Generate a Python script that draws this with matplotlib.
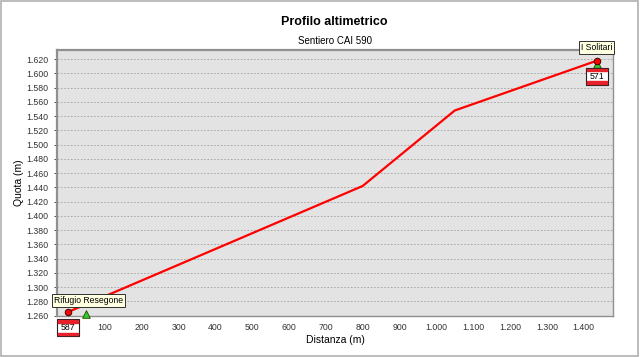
import matplotlib.pyplot as plt
from matplotlib.patches import Rectangle
from matplotlib.ticker import FuncFormatter

plt.rcParams['font.family'] = ['Liberation Sans', 'DejaVu Sans']

# profile points (distance m, elevation m)
dist = [0, 800, 1050, 1436]
quota = [1265, 1442, 1548, 1618]

# waypoints
wp_names = ['Rifugio Resegone', 'I Solitari']
wp_codes = ['587', '571']
wp_dist = [0, 1436]
wp_quota = [1265, 1618]

# other markers (green triangles)
tri_dist = [50, 1436]
tri_quota = [1262, 1614]

yticks = list(range(1260, 1621, 20))
xticks = list(range(100, 1401, 100))


def dotted(v, pos=None):
    return f"{v:,.0f}".replace(",", ".")


fig = plt.figure(figsize=(6.4, 3.57), dpi=100)
ax = fig.add_axes([0.089, 0.115, 0.869, 0.745])
ax.set_facecolor('#e3e3e3')

ax.plot(dist, quota, color='red', lw=1.6, zorder=3)
ax.scatter(tri_dist, tri_quota, marker='^', s=30, color='#33cc33',
           edgecolor='#2a5a00', lw=0.7, zorder=4, clip_on=False)
ax.scatter(wp_dist, wp_quota, marker='o', s=22, color='red',
           edgecolor='#400000', lw=0.7, zorder=5, clip_on=False)

ax.set_xlim(-30, 1480)
ax.set_ylim(1259.5, 1633)
ax.set_yticks(yticks)
ax.set_xticks(xticks)
ax.yaxis.set_major_formatter(FuncFormatter(dotted))
ax.xaxis.set_major_formatter(FuncFormatter(dotted))
ax.tick_params(labelsize=6.3, colors='#333333', length=2.5, width=0.6)
ax.tick_params(axis='x', length=0, pad=5)
ax.grid(axis='y', color='#a0a0a0', ls=(0, (2, 2)), lw=0.6)
for side, sp in ax.spines.items():
    sp.set_color('#909090')
    sp.set_linewidth(1.6 if side in ('left', 'top') else 1.0)

ax.set_xlabel('Distanza (m)', fontsize=7.5, labelpad=2)
ax.set_ylabel('Quota (m)', fontsize=7.5, labelpad=2)
fig.text(0.523, 0.937, 'Profilo altimetrico', ha='center', va='center',
         fontsize=9, fontweight='bold')
fig.text(0.523, 0.885, 'Sentiero CAI 590', ha='center', va='center', fontsize=7)

name_box = dict(boxstyle='square,pad=0.22', fc='#ffffe1', ec='#303030', lw=0.7)
code_box = dict(boxstyle='square,pad=0.45', fc='white', ec='#202020', lw=0.8)

ax.annotate(wp_names[0], (wp_dist[0], wp_quota[0]), xytext=(-10, 5),
            textcoords='offset points', fontsize=6.2, ha='left', va='bottom',
            bbox=name_box, zorder=6, annotation_clip=False)
ax.annotate(wp_names[1], (wp_dist[1], wp_quota[1]), xytext=(0, 6),
            textcoords='offset points', fontsize=6.2, ha='center', va='bottom',
            bbox=name_box, zorder=6, annotation_clip=False)
codes = []
codes.append(ax.annotate(wp_codes[0], (wp_dist[0], wp_quota[0]), xytext=(0, -8),
                         textcoords='offset points', fontsize=6.3, ha='center',
                         va='top', bbox=code_box, zorder=6, annotation_clip=False))
codes.append(ax.annotate(wp_codes[1], (wp_dist[1], wp_quota[1]), xytext=(0, -8),
                         textcoords='offset points', fontsize=6.3, ha='center',
                         va='top', bbox=code_box, zorder=6, annotation_clip=False))

# red bands on top and bottom of code boxes
fig.canvas.draw()
for t in codes:
    bb = t.get_bbox_patch().get_window_extent()
    h = 2.5
    for y0 in (bb.y0 + 1, bb.y1 - 1 - h):
        fig.patches.append(Rectangle((bb.x0 + 1, y0), bb.width - 2, h,
                                     transform=None, color='#e8202a', zorder=10))

fig.patches.append(Rectangle((0.002, 0.003), 0.995, 0.994, transform=fig.transFigure,
                             fill=False, ec='#b0b0b0', lw=1.2))

fig.savefig('out.png', dpi=100)
